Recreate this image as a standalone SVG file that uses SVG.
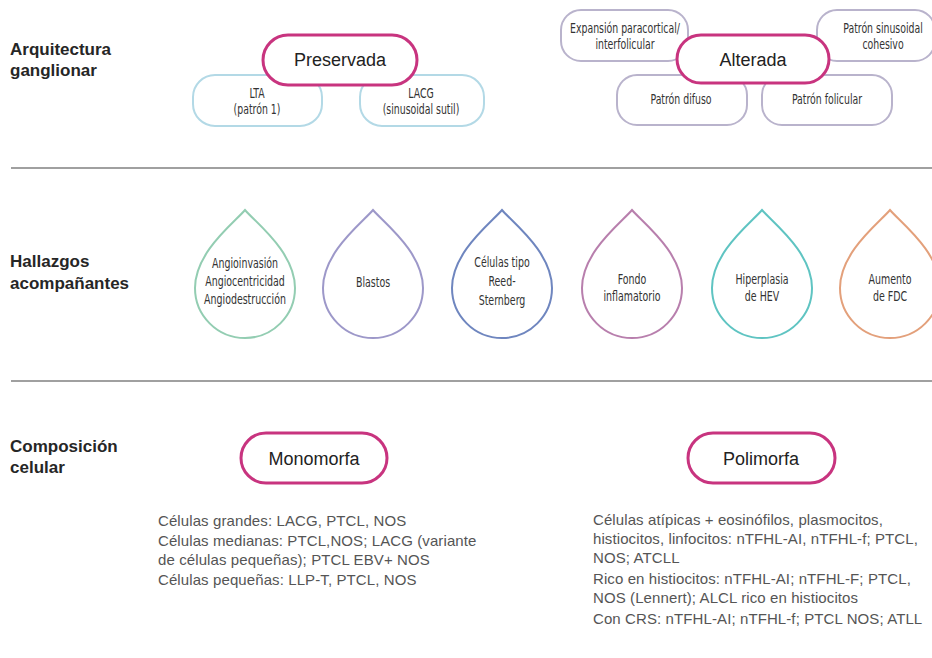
<svg xmlns="http://www.w3.org/2000/svg" width="932" height="658" viewBox="0 0 932 658">
<defs>
<style>
.lbl{font-family:"Liberation Sans",Arial,sans-serif;font-weight:bold;font-size:17px;fill:#262626}
.main{fill:#fff;stroke:#c8347f;stroke-width:3}
.mt{font-family:"Liberation Sans",Arial,sans-serif;font-size:18px;fill:#222;text-anchor:middle}
.blue{fill:#fff;stroke:#b3d9e6;stroke-width:2}
.gray{fill:#fff;stroke:#b9b3cc;stroke-width:2}
.st{font-family:"DejaVu Sans Condensed","DejaVu Sans",sans-serif;font-size:13.5px;fill:#333;text-anchor:middle}
.drop{fill:#fff;stroke-width:2}
.dt{font-family:"DejaVu Sans Condensed","DejaVu Sans",sans-serif;font-size:14px;fill:#333;text-anchor:middle}
.body{font-family:"Liberation Sans",Arial,sans-serif;font-size:15px;letter-spacing:0.1px;fill:#555}
.div{stroke:#a0a0a0;stroke-width:2}
</style>
</defs>
<rect width="932" height="658" fill="#fff"/>
<g id="dividers">
<line class="div" x1="11" y1="168" x2="932" y2="168"/>
<line class="div" x1="11" y1="381" x2="932" y2="381"/>
</g>
<g id="labels">
<text class="lbl" x="10" y="55">Arquitectura</text>
<text class="lbl" x="10" y="76">ganglionar</text>
<text class="lbl" x="10" y="267">Hallazgos</text>
<text class="lbl" x="10" y="289">acompañantes</text>
<text class="lbl" x="10" y="452">Composición</text>
<text class="lbl" x="10" y="473">celular</text>
</g>
<g id="connectors"></g>
<g id="lta"><rect class="blue" x="193" y="75" width="129" height="51" rx="22"/><text class="st" transform="matrix(0.77 0 0 1 257 0)" x="0" y="98">LTA</text><text class="st" transform="matrix(0.77 0 0 1 257 0)" x="0" y="114">(patrón 1)</text></g>
<g id="lacg"><rect class="blue" x="360" y="75" width="124" height="51" rx="22"/><text class="st" transform="matrix(0.77 0 0 1 421 0)" x="0" y="98">LACG</text><text class="st" transform="matrix(0.77 0 0 1 421 0)" x="0" y="114">(sinusoidal sutil)</text></g>
<g id="preservada"><rect class="main" x="263" y="35" width="154" height="50" rx="25"/><text class="mt" x="340" y="66">Preservada</text></g>
<g id="expansion"><rect class="gray" x="561" y="10" width="127" height="51" rx="20"/><text class="st" transform="matrix(0.77 0 0 1 625 0)" x="0" y="33">Expansión paracortical/</text><text class="st" transform="matrix(0.77 0 0 1 625 0)" x="0" y="49">interfolicular</text></g>
<g id="sinusoidal"><rect class="gray" x="817" y="10" width="118" height="51" rx="20"/><text class="st" transform="matrix(0.77 0 0 1 883 0)" x="0" y="33">Patrón sinusoidal</text><text class="st" transform="matrix(0.77 0 0 1 883 0)" x="0" y="49">cohesivo</text></g>
<g id="difuso"><rect class="gray" x="617" y="75" width="130" height="50" rx="20"/><text class="st" transform="matrix(0.77 0 0 1 681 0)" x="0" y="104">Patrón difuso</text></g>
<g id="folicular"><rect class="gray" x="762" y="75" width="130" height="50" rx="20"/><text class="st" transform="matrix(0.77 0 0 1 827 0)" x="0" y="104">Patrón folicular</text></g>
<g id="alterada"><rect class="main" x="677" y="35" width="152" height="48" rx="24"/><text class="mt" x="753" y="66">Alterada</text></g>
<g id="angio"><path class="drop" stroke="#93cdb2" d="M245 210 C255 222 295 252 295 288 A50 50 0 0 1 195 288 C195 252 235 222 245 210 Z"/><text class="dt" transform="matrix(0.75 0 0 1 245 0)" x="0" y="268">Angioinvasión</text><text class="dt" transform="matrix(0.75 0 0 1 245 0)" x="0" y="286">Angiocentricidad</text><text class="dt" transform="matrix(0.75 0 0 1 245 0)" x="0" y="304">Angiodestrucción</text></g>
<g id="blastos"><path class="drop" stroke="#9d98c9" d="M373 210 C383 222 423 252 423 288 A50 50 0 0 1 323 288 C323 252 363 222 373 210 Z"/><text class="dt" transform="matrix(0.75 0 0 1 373 0)" x="0" y="287">Blastos</text></g>
<g id="reed"><path class="drop" stroke="#6f86bf" d="M502 210 C512 222 552 252 552 288 A50 50 0 0 1 452 288 C452 252 492 222 502 210 Z"/><text class="dt" transform="matrix(0.75 0 0 1 502 0)" x="0" y="267">Células tipo</text><text class="dt" transform="matrix(0.75 0 0 1 502 0)" x="0" y="286">Reed-</text><text class="dt" transform="matrix(0.75 0 0 1 502 0)" x="0" y="305">Sternberg</text></g>
<g id="fondo"><path class="drop" stroke="#b87fad" d="M632 210 C642 222 682 252 682 288 A50 50 0 0 1 582 288 C582 252 622 222 632 210 Z"/><text class="dt" transform="matrix(0.75 0 0 1 632 0)" x="0" y="284">Fondo</text><text class="dt" transform="matrix(0.75 0 0 1 632 0)" x="0" y="301">inflamatorio</text></g>
<g id="hev"><path class="drop" stroke="#5fc4c2" d="M762 210 C772 222 812 252 812 288 A50 50 0 0 1 712 288 C712 252 752 222 762 210 Z"/><text class="dt" transform="matrix(0.75 0 0 1 762 0)" x="0" y="284">Hiperplasia</text><text class="dt" transform="matrix(0.75 0 0 1 762 0)" x="0" y="301">de HEV</text></g>
<g id="fdc"><path class="drop" stroke="#e3a07b" d="M890 210 C900 222 940 252 940 288 A50 50 0 0 1 840 288 C840 252 880 222 890 210 Z"/><text class="dt" transform="matrix(0.75 0 0 1 890 0)" x="0" y="284">Aumento</text><text class="dt" transform="matrix(0.75 0 0 1 890 0)" x="0" y="301">de FDC</text></g>
<g id="monomorfa"><rect class="main" x="241" y="433" width="146" height="50" rx="25"/><text class="mt" x="314" y="465">Monomorfa</text></g>
<g id="polimorfa"><rect class="main" x="688" y="433" width="147" height="50" rx="25"/><text class="mt" x="761" y="465">Polimorfa</text></g>
<g id="mono-text">
<text class="body" x="158" y="526">Células grandes: LACG, PTCL, NOS</text>
<text class="body" x="158" y="546">Células medianas: PTCL,NOS; LACG (variante</text>
<text class="body" x="158" y="565">de células pequeñas); PTCL EBV+ NOS</text>
<text class="body" x="158" y="585">Células pequeñas: LLP-T, PTCL, NOS</text>
</g>
<g id="poli-text">
<text class="body" x="593" y="525">Células atípicas + eosinófilos, plasmocitos,</text>
<text class="body" x="593" y="544">histiocitos, linfocitos: nTFHL-AI, nTFHL-f; PTCL,</text>
<text class="body" x="593" y="563">NOS; ATCLL</text>
<text class="body" x="593" y="584">Rico en histiocitos: nTFHL-AI; nTFHL-F; PTCL,</text>
<text class="body" x="593" y="603">NOS (Lennert); ALCL rico en histiocitos</text>
<text class="body" x="593" y="624">Con CRS: nTFHL-AI; nTFHL-f; PTCL NOS; ATLL</text>
</g>
</svg>
